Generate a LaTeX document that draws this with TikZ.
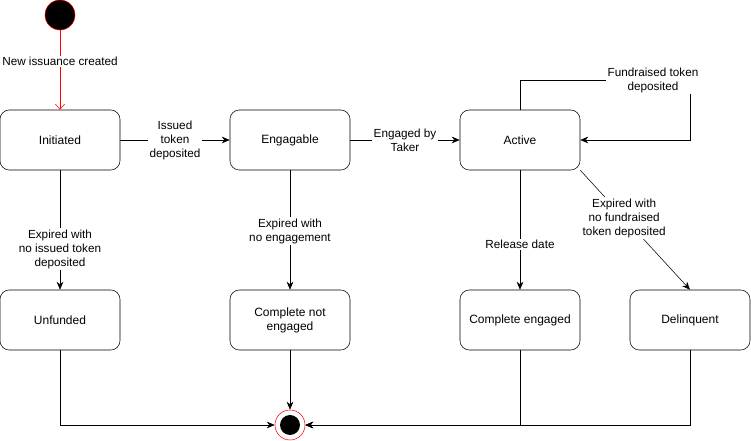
\documentclass[tikz,border=0pt]{standalone}
\usepackage{fontspec}
\setmainfont{Liberation Sans}
\usetikzlibrary{arrows.meta}

\begin{document}
\begin{tikzpicture}[
        x=0.75pt, y=-0.75pt,
        estado/.style={shape=rectangle, draw=black, rounded corners=7pt, minimum width=90pt, minimum height=45pt, align=center, font=\fontsize{9}{10.5}\selectfont},
        inicio/.style={shape=circle, draw=red, fill=black, minimum size=22.5pt, inner sep=0pt},
        fim/.style={shape=circle, draw=red, fill=white, minimum size=22.5pt, inner sep=0pt,
            path picture={\fill[black] (path picture bounding box.center) circle (7.5pt);}},
        rotulo/.style={fill=white, align=center, inner sep=1pt, font=\fontsize{8.8}{10.5}\selectfont},
        seta/.style={-{Stealth[length=6pt, width=5pt]}},
        setavermelha/.style={draw=red, -{Straight Barb[length=4pt, width=7pt]}},
    ]
    \useasboundingbox (0,0) rectangle (751,441);

    \node[inicio] (ini) at (60, 15) {};
    \node[estado] (initiated) at (60, 140) {Initiated};
    \node[estado] (engagable) at (290, 140) {Engagable};
    \node[estado] (active) at (520, 140) {Active};
    \node[estado] (unfunded) at (60, 320) {Unfunded};
    \node[estado] (cne) at (290, 320) {Complete not\\engaged};
    \node[estado] (ce) at (520, 320) {Complete engaged};
    \node[estado] (delinquent) at (690, 320) {Delinquent};
    \node[fim] (fim) at (290, 425) {};
    \coordinate (canto) at (690, 80);

    \draw[setavermelha] (ini) -- node[rotulo, pos=0.39, text=black] {New issuance created} (initiated);
    \draw[seta] (initiated) -- node[rotulo] {Issued\\token\\deposited} (engagable);
    \draw[seta] (engagable) -- node[rotulo] {Engaged by\\Taker} (active);
    \draw[seta] (initiated) -- node[rotulo, pos=0.66] {Expired with\\no issued token\\deposited} (unfunded);
    \draw[seta] (engagable) -- node[rotulo, pos=0.51] {Expired with\\no engagement} (cne);
    \draw[seta] (active) -- node[rotulo, pos=0.62] {Release date} (ce);
    \draw[seta] (active.south east) -- node[rotulo, pos=0.4] {Expired with\\no fundraised\\token deposited} (delinquent.north);
    \draw[seta] (active.north) |- (canto) |- (active.east);
    \node[rotulo] (lfund) at (653, 80) {Fundraised token\\deposited};

    \draw[seta] (unfunded) |- (fim.west);
    \draw[seta] (cne) -- (fim);
    \draw[seta] (ce) |- (fim.east);
    \draw[seta] (delinquent) |- (fim.east);

\end{tikzpicture}
\end{document}
